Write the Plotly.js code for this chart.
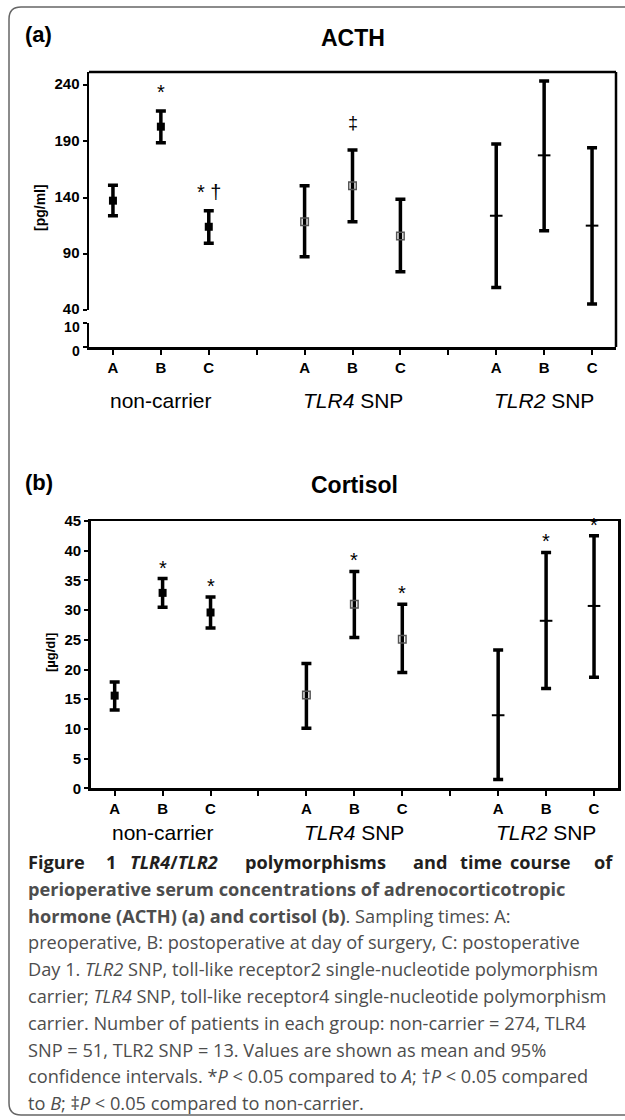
<!DOCTYPE html>
<html>
<head>
<meta charset="utf-8">
<script src="https://cdn.plot.ly/plotly-3.0.1.min.js"></script>
<style>html,body{margin:0;padding:0;background:#fff;}#chart{width:625px;height:1120px;}</style>
</head>
<body>
<div id="chart"></div>
<script>
// ---------- DATA ----------
const timepoints = ['A', 'B', 'C'];
const groups = ['non-carrier', '<i>TLR4</i> SNP', '<i>TLR2</i> SNP'];
const groupPositions = [[1, 2, 3], [5, 6, 7], [9, 10, 11]];
const tickPositions = [1, 2, 3, 4, 5, 6, 7, 8, 9, 10, 11];
const tickLabels = ['A', 'B', 'C', '', 'A', 'B', 'C', '', 'A', 'B', 'C'];

// ACTH [pg/ml]: mean, lower 95% CI, upper 95% CI
const acthNonMean = [137.2, 203.0, 114.0];
const acthNonLow  = [123.8, 188.7, 99.3];
const acthNonHigh = [151.0, 216.9, 128.3];
const acthTlr4Mean = [118.5, 150.5, 105.8];
const acthTlr4Low  = [87.4, 118.5, 74.0];
const acthTlr4High = [150.5, 182.2, 138.5];
const acthTlr2Mean = [123.8, 177.5, 115.0];
const acthTlr2Low  = [60.1, 110.5, 45.3];
const acthTlr2High = [187.6, 243.5, 184.3];
const acthSig = [['', '*', '* \u2020'], ['', '\u2021', ''], ['', '', '']];
const acthLowerTicks = [0, 10];
const acthUpperTicks = [40, 90, 140, 190, 240];

// Cortisol [µg/dl]
const cortNonMean = [15.6, 32.9, 29.6];
const cortNonLow  = [13.2, 30.5, 27.0];
const cortNonHigh = [17.9, 35.3, 32.2];
const cortTlr4Mean = [15.7, 31.0, 25.1];
const cortTlr4Low  = [10.1, 25.4, 19.5];
const cortTlr4High = [21.0, 36.5, 31.0];
const cortTlr2Mean = [12.3, 28.2, 30.7];
const cortTlr2Low  = [1.5, 16.8, 18.7];
const cortTlr2High = [23.3, 39.7, 42.5];
const cortSig = [['', '*', '*'], ['', '*', '*'], ['', '*', '*']];
const cortTicks = [0, 5, 10, 15, 20, 25, 30, 35, 40, 45];

const captionLines = [
  null,
  '<b>perioperative serum concentrations of adrenocorticotropic</b>',
  '<b>hormone (ACTH) (a) and cortisol (b)</b>. Sampling times: A:',
  'preoperative, B: postoperative at day of surgery, C: postoperative',
  'Day 1. <i>TLR2</i> SNP, toll-like receptor2 single-nucleotide polymorphism',
  'carrier; <i>TLR4</i> SNP, toll-like receptor4 single-nucleotide polymorphism',
  'carrier. Number of patients in each group: non-carrier = 274, TLR4',
  'SNP = 51, TLR2 SNP = 13. Values are shown as mean and 95%',
  'confidence intervals. *<i>P</i> &lt; 0.05 compared to <i>A</i>; \u2020<i>P</i> &lt; 0.05 compared',
  'to <i>B</i>; \u2021<i>P</i> &lt; 0.05 compared to non-carrier.'
];
const captionFirstWords = ['Figure', '1', '<i>TLR4</i>/<i>TLR2</i>', 'polymorphisms', 'and', 'time', 'course', 'of'];

// ---------- LAYOUT HELPERS ----------
const W = 625, H = 1120;
const fx = p => p / W;
const fy = p => 1 - p / H;
const FONT = 'Liberation Sans, Arial, sans-serif';
const CAPFONT = 'Open Sans, Noto Sans, sans-serif';
const CAPSIZE = 18.2;

function sub(a, b) { return a.map((v, i) => v - b[i]); }

const markerStyles = [
  {symbol: 'square', size: 8, color: '#000', line: {width: 0}},
  {symbol: 'square-open', size: 7.5, color: '#555', line: {width: 1.5, color: '#555'}},
  {symbol: 'line-ew', size: 9, color: '#000', line: {width: 2, color: '#000'}}
];

function makeTraces(means, lows, highs, xa, ya) {
  return means.map((m, g) => ({
    type: 'scatter', mode: 'markers',
    x: groupPositions[g], y: m,
    xaxis: xa, yaxis: ya,
    marker: markerStyles[g],
    error_y: {type: 'data', symmetric: false,
      array: sub(highs[g], m), arrayminus: sub(m, lows[g]),
      color: '#000', thickness: 3.5, width: 5},
    hoverinfo: 'skip', cliponaxis: false
  }));
}

const traces = [].concat(
  // empty trace so the lower (broken) axis segment of panel (a) is created
  [{type: 'scatter', mode: 'markers', x: [], y: [], xaxis: 'x', yaxis: 'y', hoverinfo: 'skip'}],
  makeTraces([acthNonMean, acthTlr4Mean, acthTlr2Mean], [acthNonLow, acthTlr4Low, acthTlr2Low], [acthNonHigh, acthTlr4High, acthTlr2High], 'x', 'y2'),
  makeTraces([cortNonMean, cortTlr4Mean, cortTlr2Mean], [cortNonLow, cortTlr4Low, cortTlr2Low], [cortNonHigh, cortTlr4High, cortTlr2High], 'x3', 'y3')
);

const tickFont = {family: FONT, size: 15, color: '#000', weight: 'bold'};
const axisBase = {showline: true, linewidth: 2.5, linecolor: '#000', showgrid: false, zeroline: false,
  ticks: 'outside', ticklen: 5, tickwidth: 2, tickcolor: '#000', tickfont: tickFont, fixedrange: true};

const annotations = [];
// significance marks
function addSig(sig, highs, xref, yref, shift) {
  sig.forEach((arr, g) => arr.forEach((t, i) => {
    if (!t) return;
    annotations.push({xref: xref, yref: yref, x: groupPositions[g][i], y: highs[g][i], text: t,
      showarrow: false, xanchor: 'center', yanchor: 'bottom', yshift: t === '\u2021' ? 15 : shift,
      font: {family: FONT, size: t === '\u2021' ? 18 : 20, color: '#000'}});
  }));
}
addSig(acthSig, [acthNonHigh, acthTlr4High, acthTlr2High], 'x', 'y2', 6);
addSig(cortSig, [cortNonHigh, cortTlr4High, cortTlr2High], 'x3', 'y3', -2);

// group labels
groups.forEach((gname, g) => {
  annotations.push({xref: 'x', yref: 'paper', x: groupPositions[g][1], y: fy(400), text: gname,
    showarrow: false, xanchor: 'center', yanchor: 'middle', font: {family: FONT, size: 21, color: '#000'}});
  annotations.push({xref: 'x3', yref: 'paper', x: groupPositions[g][1], y: fy(832), text: gname,
    showarrow: false, xanchor: 'center', yanchor: 'middle', font: {family: FONT, size: 21, color: '#000'}});
});

// panel titles
annotations.push({xref: 'paper', yref: 'paper', x: fx(23), y: fy(34), text: '<b>(a)</b>', showarrow: false,
  xanchor: 'left', yanchor: 'middle', font: {family: FONT, size: 22, color: '#000'}});
annotations.push({xref: 'paper', yref: 'paper', x: fx(353), y: fy(38), text: '<b>ACTH</b>', showarrow: false,
  xanchor: 'center', yanchor: 'middle', font: {family: FONT, size: 23, color: '#000'}});
annotations.push({xref: 'paper', yref: 'paper', x: fx(23), y: fy(482), text: '<b>(b)</b>', showarrow: false,
  xanchor: 'left', yanchor: 'middle', font: {family: FONT, size: 22, color: '#000'}});
annotations.push({xref: 'paper', yref: 'paper', x: fx(355), y: fy(485), text: '<b>Cortisol</b>', showarrow: false,
  xanchor: 'center', yanchor: 'middle', font: {family: FONT, size: 23, color: '#000'}});

// y-axis titles
annotations.push({xref: 'paper', yref: 'paper', x: fx(40), y: fy(208), text: '<b>[pg/ml]</b>', textangle: -90,
  xanchor: 'center', yanchor: 'middle', showarrow: false, font: {family: FONT, size: 14, color: '#000'}});
annotations.push({xref: 'paper', yref: 'paper', x: fx(50), y: fy(653), text: '<b>[µg/dl]</b>', textangle: -90,
  xanchor: 'center', yanchor: 'middle', showarrow: false, font: {family: FONT, size: 13, color: '#000'}});

// caption
const capStart = 862, capStep = 26.8;
const firstWordX = [26, 104, 128, 243, 411, 458, 508, 592];
captionFirstWords.forEach((w, i) => {
  annotations.push({xref: 'paper', yref: 'paper', x: fx(firstWordX[i]), y: fy(capStart), text: '<b>' + w + '</b>',
    showarrow: false, xanchor: 'left', yanchor: 'middle', font: {family: CAPFONT, size: CAPSIZE, color: '#231f20'}});
});
captionLines.forEach((line, i) => {
  if (!line) return;
  annotations.push({xref: 'paper', yref: 'paper', x: fx(26), y: fy(capStart + i * capStep), text: line,
    showarrow: false, xanchor: 'left', yanchor: 'middle', font: {family: CAPFONT, size: CAPSIZE, color: '#4d4d4d'}});
});

// frame path (rounded left corners, right edge off-canvas)
function P(x, y) { return fx(x).toFixed(5) + ',' + fy(y).toFixed(5); }
const framePath = 'M' + P(660, 7) + ' L' + P(21, 7) + ' Q' + P(9, 7) + ' ' + P(9, 19) +
  ' L' + P(9, 1103) + ' Q' + P(9, 1115) + ' ' + P(21, 1115) + ' L' + P(660, 1115);

const layout = {
  width: W, height: H,
  margin: {l: 0, r: 0, t: 0, b: 0},
  paper_bgcolor: '#fff', plot_bgcolor: 'rgba(0,0,0,0)',
  showlegend: false, hovermode: false,
  font: {family: FONT, color: '#000'},
  xaxis: Object.assign({}, axisBase, {domain: [fx(89), fx(616)], range: [0.5, 11.5], anchor: 'y',
    tickmode: 'array', tickvals: tickPositions, ticktext: tickLabels}),
  yaxis: Object.assign({}, axisBase, {domain: [fy(347), fy(323)], range: [0, 10], anchor: 'x',
    tickmode: 'array', tickvals: acthLowerTicks, ticklen: 4, ticklabelshift: 4,
    tickfont: {family: FONT, size: 14, color: '#000', weight: 'bold'}}),
  yaxis2: Object.assign({}, axisBase, {domain: [fy(310), fy(72)], range: [40, 251.6], anchor: 'x',
    tickmode: 'array', tickvals: acthUpperTicks, ticklen: 4, ticklabelshift: -1}),
  xaxis3: Object.assign({}, axisBase, {domain: [fx(90.7), fx(618)], range: [0.5, 11.5], anchor: 'y3',
    mirror: true, tickmode: 'array', tickvals: tickPositions, ticktext: tickLabels}),
  yaxis3: Object.assign({}, axisBase, {domain: [fy(788.3), fy(521)], range: [0, 45], anchor: 'x3',
    mirror: true, tickmode: 'array', tickvals: cortTicks, ticklen: 4}),
  shapes: [
    {type: 'line', xref: 'x domain', yref: 'y2 domain', x0: 0, x1: 1, y0: 1, y1: 1, line: {color: '#000', width: 2.5}},
    {type: 'line', xref: 'x domain', yref: 'paper', x0: 1, x1: 1, y0: fy(347), y1: fy(72), line: {color: '#000', width: 2.5}},
    {type: 'path', xref: 'paper', yref: 'paper', path: framePath, line: {color: '#666', width: 1.5}}
  ],
  annotations: annotations
};

Plotly.newPlot('chart', traces, layout, {staticPlot: true, displayModeBar: false});
</script>
</body>
</html>
